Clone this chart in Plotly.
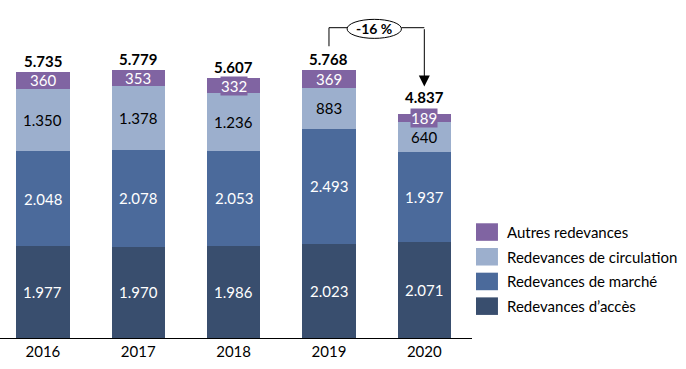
import plotly.graph_objects as go

years = ["2016", "2017", "2018", "2019", "2020"]
acces = [1977, 1970, 1986, 2023, 2071]
marche = [2048, 2078, 2053, 2493, 1937]
circulation = [1350, 1378, 1236, 883, 640]
autres = [360, 353, 332, 369, 189]
totals = [5735, 5779, 5607, 5768, 4837]
series_names = ["Redevances d’accès", "Redevances de marché",
                "Redevances de circulation", "Autres redevances"]
change_label = "-16 %"

series = [acces, marche, circulation, autres]
colors = ["#394E6E", "#4B6A9B", "#9CAFCD", "#8064A2"]
label_colors = ["white", "white", "black", "white"]

FONT = "Lato"
fmt = lambda v: f"{v:,}".replace(",", ".")

fig = go.Figure()
for name, vals, col in zip(series_names, series, colors):
    fig.add_trace(go.Bar(x=years, y=vals, name=name, marker=dict(color=col, line=dict(width=0)),
                         width=0.56, showlegend=False, hoverinfo="y+name"))

annotations = []
# segment labels (x given as category index)
for i, yr in enumerate(years):
    base = 0
    small_top = False
    for s, (vals, lc) in enumerate(zip(series, label_colors)):
        v = vals[i]
        mid = base + v / 2
        base += v
        ann = dict(x=i, y=mid, xref="x", yref="y", text=fmt(v), showarrow=False,
                   font=dict(family=FONT, size=15, color=lc), xanchor="center", yanchor="middle")
        if s == 3 and v < 340:
            ann.update(bgcolor=colors[3], borderpad=0)
            small_top = v < 250
        annotations.append(ann)
    annotations.append(dict(x=i, y=totals[i], xref="x", yref="y", text="<b>" + fmt(totals[i]) + "</b>",
                            showarrow=False, font=dict(family=FONT, size=15, color="black"),
                            xanchor="center", yanchor="bottom", yshift=6 if small_top else 0))

# change annotation
y_line = 6690
annotations.append(dict(x=3.475, y=6665, xref="x", yref="y", text="<b>" + change_label + "</b>", showarrow=False,
                        font=dict(family=FONT, size=14, color="black"), xanchor="center", yanchor="middle"))
annotations.append(dict(x=4, y=5420, ax=4, ay=y_line, axref="x", ayref="y", xref="x", yref="y",
                        text="", showarrow=True, arrowhead=2, arrowsize=2.2, arrowwidth=1, arrowcolor="black"))

shapes = [
    dict(type="line", x0=3, x1=3, y0=6290, y1=y_line, xref="x", yref="y", line=dict(color="black", width=1)),
    dict(type="line", x0=3, x1=3.19, y0=y_line, y1=y_line, xref="x", yref="y", line=dict(color="black", width=1)),
    dict(type="line", x0=3.76, x1=4, y0=y_line, y1=y_line, xref="x", yref="y", line=dict(color="black", width=1)),
    dict(type="circle", x0=3.19, x1=3.76, y0=6460, y1=6870, xref="x", yref="y",
         line=dict(color="black", width=1), fillcolor="white", layer="above"),
]

# custom legend
leg_y = [0.326, 0.250, 0.174, 0.098]
for j, s in enumerate([3, 2, 1, 0]):
    yc = leg_y[j]
    shapes.append(dict(type="rect", xref="paper", yref="paper", x0=1.0085, x1=1.055,
                       y0=yc - 0.027, y1=yc + 0.027, fillcolor=colors[s], line=dict(width=0)))
    annotations.append(dict(xref="paper", yref="paper", x=1.07, y=yc, text=series_names[s],
                            showarrow=False, xanchor="left", yanchor="middle",
                            font=dict(family=FONT, size=15, color="black")))

fig.update_layout(
    barmode="stack",
    width=686, height=369,
    margin=dict(l=0, r=214, t=13, b=31),
    paper_bgcolor="white", plot_bgcolor="white",
    font=dict(family=FONT, size=15, color="black"),
    xaxis=dict(type="category", range=[-0.45, 4.5], showline=True, linecolor="black", linewidth=1.3,
               ticks="", showgrid=False, automargin=False, tickfont=dict(family=FONT, size=15, color="black")),
    yaxis=dict(range=[0, 7007], visible=False, showgrid=False, automargin=False),
    annotations=annotations,
    shapes=shapes,
    bargap=0.44,
)

fig.write_html("out.html", config={"displayModeBar": False},
               post_script="document.body.style.margin='0';document.body.style.overflow='hidden';")
